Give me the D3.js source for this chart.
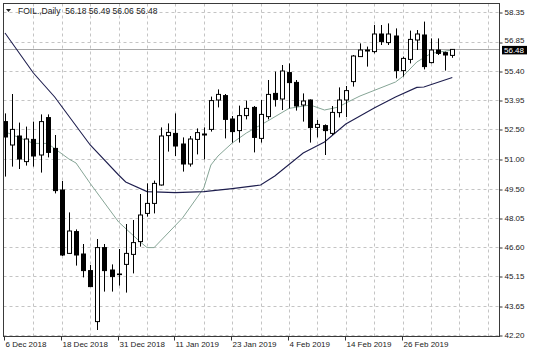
<!DOCTYPE html>
<html>
<head>
<meta charset="utf-8">
<script src="https://cdn.jsdelivr.net/npm/d3@7"></script>
<style>
html,body{margin:0;padding:0;background:#fff;}
svg{display:block;}
text{font-family:"Liberation Sans",Arial,sans-serif;}
</style>
</head>
<body>
<svg id="chart" width="536" height="358"></svg>
<script>
// ---- data ----
const dates = ["2018-12-06","2018-12-07","2018-12-10","2018-12-11","2018-12-12","2018-12-13","2018-12-14","2018-12-17",
"2018-12-18","2018-12-19","2018-12-20","2018-12-21","2018-12-24","2018-12-26","2018-12-27","2018-12-28",
"2018-12-31","2019-01-02","2019-01-03","2019-01-04","2019-01-07","2019-01-08","2019-01-09","2019-01-10",
"2019-01-11","2019-01-14","2019-01-15","2019-01-16","2019-01-17","2019-01-18","2019-01-21","2019-01-22",
"2019-01-23","2019-01-24","2019-01-25","2019-01-28","2019-01-29","2019-01-30","2019-01-31","2019-02-01",
"2019-02-04","2019-02-05","2019-02-06","2019-02-07","2019-02-08","2019-02-11","2019-02-12","2019-02-13",
"2019-02-14","2019-02-15","2019-02-18","2019-02-19","2019-02-20","2019-02-21","2019-02-22","2019-02-25",
"2019-02-26","2019-02-27","2019-02-28","2019-03-01","2019-03-04","2019-03-05","2019-03-06","2019-03-07"];
const open  = [52.87,51.70,52.15,50.87,51.98,51.20,53.07,51.53,49.45,46.28,47.37,46.25,45.42,42.87,46.57,45.45,
               45.25,45.73,46.23,46.87,48.28,48.78,49.70,52.17,52.28,51.75,50.75,51.98,52.25,52.48,53.95,54.17,
               53.00,52.42,53.17,53.58,52.03,53.12,54.28,54.00,55.32,54.83,53.70,53.95,52.58,52.67,52.28,53.32,
               53.95,54.87,56.12,56.45,56.37,57.25,56.82,57.15,55.42,55.98,56.95,57.20,55.82,56.45,56.32,56.18];
const high  = [53.28,54.25,52.82,52.62,52.87,53.23,53.23,52.20,49.90,48.33,47.48,46.75,45.70,47.00,46.75,45.73,
               46.50,47.75,47.95,49.25,49.78,49.92,52.58,52.78,53.28,52.08,52.15,52.53,52.58,54.12,54.48,54.25,
               53.15,53.67,53.92,53.65,53.95,54.95,55.37,55.70,55.78,54.95,54.28,53.98,52.95,52.73,53.65,54.58,
               54.65,56.20,56.78,56.62,57.70,57.70,57.78,57.53,56.12,57.42,57.45,57.87,57.03,57.03,56.37,56.49];
const low   = [50.12,50.62,50.50,50.67,50.62,50.32,51.08,49.28,46.15,46.25,45.67,45.08,44.60,42.45,44.37,44.37,
               44.67,44.32,45.28,46.62,48.12,48.28,49.67,51.37,51.15,50.37,50.62,51.23,50.98,52.37,53.58,52.03,
               51.82,51.82,52.98,51.33,51.82,52.98,53.62,53.45,53.53,53.42,52.87,51.82,52.08,51.20,52.20,53.08,
               53.10,54.62,56.12,55.62,56.28,56.70,56.70,55.03,55.12,55.78,56.45,55.48,55.78,56.20,55.42,56.06];
const close = [52.10,52.48,51.00,52.00,51.15,52.87,51.33,49.42,46.20,47.40,46.20,45.42,44.62,46.57,45.42,45.12,
               45.22,46.28,46.82,48.20,48.78,49.78,52.15,52.33,51.65,50.75,52.00,52.32,52.20,53.92,54.23,52.98,
               52.37,53.17,53.53,52.08,53.23,54.23,53.98,55.40,54.82,53.65,53.90,52.57,52.73,52.42,53.33,53.95,
               54.42,56.15,56.45,56.40,57.25,56.87,57.25,55.42,56.03,56.98,57.25,55.62,56.45,56.28,56.20,56.48];
// moving averages (bar index, value)
const maSlowBars = [0,4,7,12,16,17,20,24,28,32,36,38,42,45,48,52,55,58,59,63];
const maSlowVals = [57.3,55.3,54.1,51.7,50.2,49.85,49.37,49.32,49.37,49.52,49.7,50.15,51.3,51.85,52.75,53.55,54.1,54.58,54.6,55.07];
const maFastBars = [0,4,6,9,10,12,16,19,20,21,25,28,29,30,32,34,37,40,43,45,47,48,50,55,56,58,60,63];
const maFastVals = [52.36,51.78,51.78,51.0,50.8,49.78,47.85,46.87,46.57,46.57,48.05,49.55,50.7,51.15,51.8,52.3,52.9,53.53,53.7,53.45,53.6,53.8,54.15,54.85,55.12,55.85,56.28,56.45];
const yTicks = [58.35,56.85,55.40,53.95,52.50,51.00,49.50,48.05,46.60,45.15,43.65,42.20];
const xTickDates = ["2018-12-06","2018-12-18","2018-12-31","2019-01-11","2019-01-23","2019-02-04","2019-02-14","2019-02-26"];
const xTickLabels = ["6 Dec 2018","18 Dec 2018","31 Dec 2018","11 Jan 2019","23 Jan 2019","4 Feb 2019","14 Feb 2019","26 Feb 2019"];
const lastPrice = 56.48;
const title = "FOIL.,Daily  56.18 56.49 56.06 56.48";

// ---- layout ----
const svg = d3.select("#chart");
const L = 3.5, R = 499.5, T = 3.5, B = 336.5;
const x = d3.scaleLinear().domain([0, dates.length - 1]).range([5, 452.3]);
const y = d3.scaleLinear().domain([42.20, 58.35]).range([335, 12]);
const idx = d => dates.indexOf(d);

svg.append("defs").append("clipPath").attr("id","clip")
  .append("rect").attr("x",L).attr("y",T).attr("width",R-L).attr("height",B-T);

const grid = svg.append("g").attr("clip-path","url(#clip)");
grid.selectAll("line.h").data(yTicks).join("line")
  .attr("x1",L).attr("x2",R)
  .attr("y1",d=>Math.round(y(d))+0.5).attr("y2",d=>Math.round(y(d))+0.5)
  .attr("stroke","#c4c4c4").attr("stroke-dasharray","3,3").attr("stroke-width",1);
const vg = d3.range(4, 72, 4);
grid.selectAll("line.v").data(vg).join("line")
  .attr("x1",d=>Math.round(x(d))+0.5).attr("x2",d=>Math.round(x(d))+0.5)
  .attr("y1",T).attr("y2",B)
  .attr("stroke","#c4c4c4").attr("stroke-dasharray","3,3").attr("stroke-width",1);

grid.append("line").attr("x1",L).attr("x2",R)
  .attr("y1",Math.round(y(lastPrice))+0.5).attr("y2",Math.round(y(lastPrice))+0.5)
  .attr("stroke","#a8a8a8").attr("stroke-width",1);

const plot = svg.append("g").attr("clip-path","url(#clip)");

const line = d3.line().x(d=>x(d[0])).y(d=>y(d[1]));
plot.append("path").datum(maFastBars.map((b,i)=>[b,maFastVals[i]]))
  .attr("d",line).attr("fill","none").attr("stroke","#86a596").attr("stroke-width",1);
plot.append("path").datum(maSlowBars.map((b,i)=>[b,maSlowVals[i]]))
  .attr("d",line).attr("fill","none").attr("stroke","#1e1e4e").attr("stroke-width",1.1);

const bars = dates.map((d,i)=>({i, o:open[i], h:high[i], l:low[i], c:close[i]}));
const cg = plot.selectAll("g.c").data(bars).join("g");
cg.append("line")
  .attr("x1",d=>Math.round(x(d.i))+0.5).attr("x2",d=>Math.round(x(d.i))+0.5)
  .attr("y1",d=>y(d.h)).attr("y2",d=>y(d.l))
  .attr("stroke","#000").attr("stroke-width",1);
cg.append("rect")
  .attr("x",d=>Math.round(x(d.i))-1.5).attr("width",4)
  .attr("y",d=>y(Math.max(d.o,d.c)))
  .attr("height",d=>Math.max(0.01, Math.abs(y(d.o)-y(d.c))))
  .attr("fill",d=>d.c>=d.o?"#fff":"#000")
  .attr("stroke","#000").attr("stroke-width",1);

svg.append("rect").attr("x",L).attr("y",T).attr("width",R-L).attr("height",B-T)
  .attr("fill","none").attr("stroke","#3a3a3a").attr("stroke-width",1);

const yAxis = d3.axisRight(y).tickValues(yTicks).tickFormat(d3.format(".2f")).tickSize(3).tickPadding(2);
const ya = svg.append("g").attr("transform",`translate(${R},0)`).call(yAxis);
ya.select(".domain").remove();
ya.selectAll("line").attr("stroke","#333").attr("transform","translate(0,0.5)");
ya.selectAll("text").attr("font-size","8px").attr("fill","#222").attr("font-family","Liberation Sans, Arial, sans-serif");
// the 56.85 label sits just above the last-price box
ya.selectAll(".tick").filter(d=>d===56.85).select("text").attr("dy","0.1em");

const xAxis = d3.axisBottom(x).tickValues(xTickDates.map(idx))
  .tickFormat((d,i)=>xTickLabels[i]).tickSize(4).tickPadding(1);
const xa = svg.append("g").attr("transform",`translate(0,${B})`).call(xAxis);
xa.select(".domain").remove();
xa.selectAll(".tick").attr("transform",d=>`translate(${Math.round(x(d))-0.5},0)`);
xa.selectAll("line").attr("stroke","#333");
xa.selectAll("text").attr("text-anchor","start").attr("x",1)
  .attr("font-size","8px").attr("fill","#222").attr("font-family","Liberation Sans, Arial, sans-serif");

const ly = y(lastPrice);
svg.append("rect").attr("x",502).attr("y",ly-3.5).attr("width",25).attr("height",8.5).attr("fill","#000");
svg.append("text").attr("x",504).attr("y",ly+3.5).attr("font-size","8px").attr("fill","#fff")
  .text(d3.format(".2f")(lastPrice));

svg.append("path").attr("d","M6,9 L11,9 L8.5,12 Z").attr("fill","#222");
svg.append("text").attr("x",18).attr("y",14).attr("font-size","8.5px").attr("fill","#222")
  .attr("xml:space","preserve").style("white-space","pre").text(title);
</script>
</body>
</html>
